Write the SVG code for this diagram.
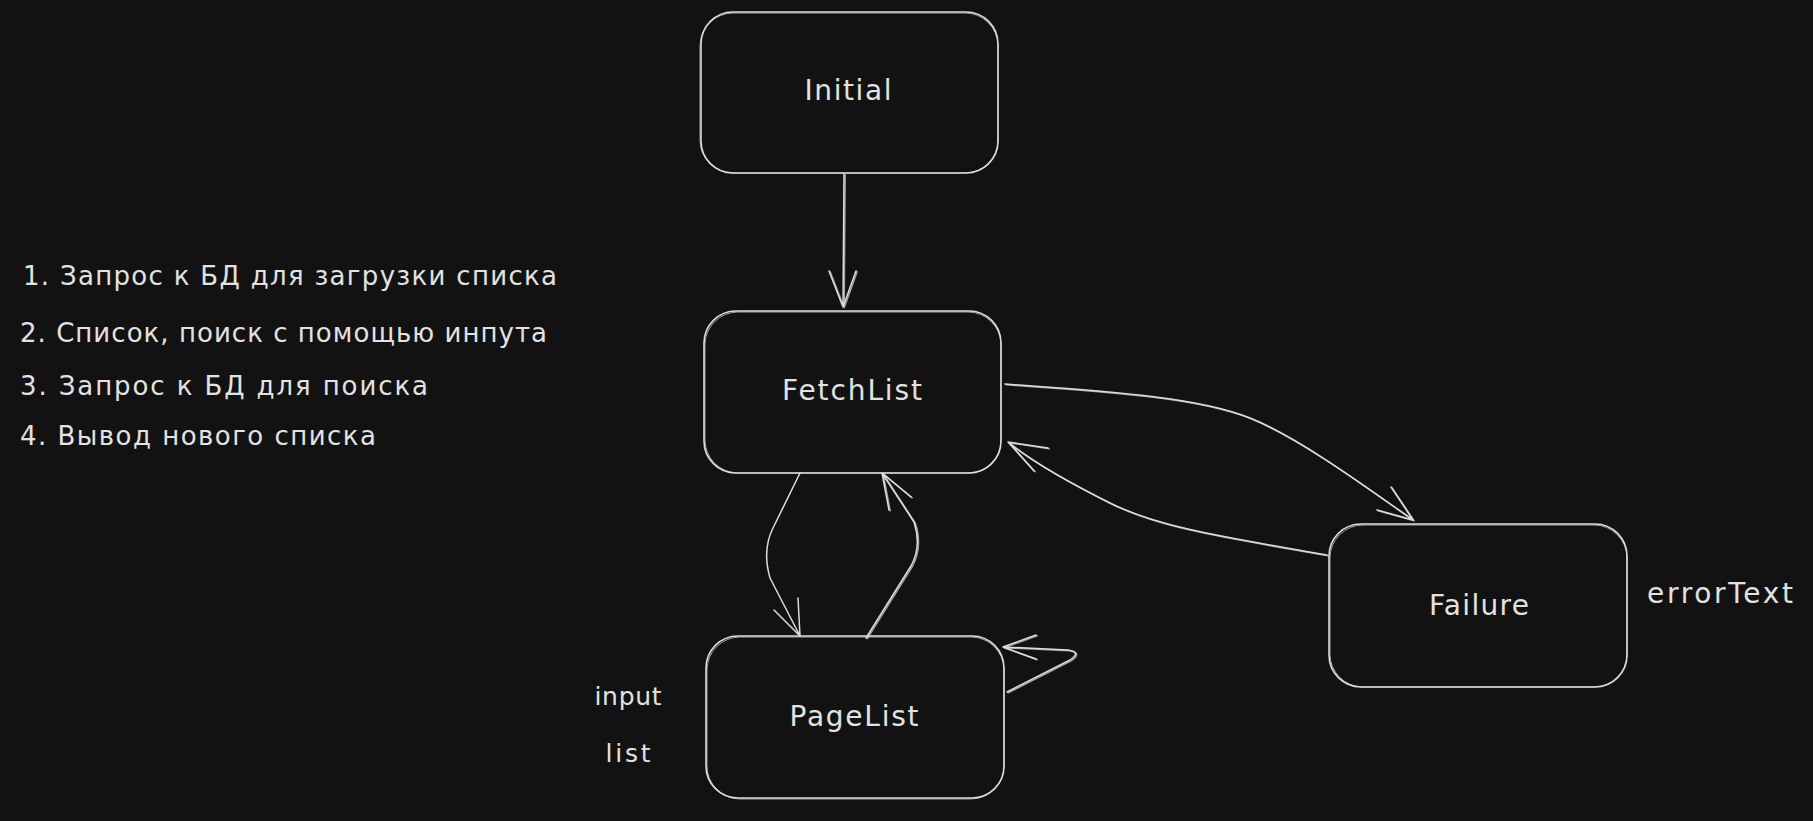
<svg xmlns="http://www.w3.org/2000/svg" xmlns:xlink="http://www.w3.org/1999/xlink" width="1813" height="821" viewBox="0 0 1813 821">
<style>
.bg{fill:#121212}
.box{fill:none;stroke:#dcdcdc;stroke-width:1.6}
.box2{fill:none;stroke:#dcdcdc;stroke-width:1;opacity:0.7}
.ln{fill:none;stroke:#dcdcdc;stroke-width:1.5;stroke-linecap:round;stroke-linejoin:round}
.ln2{fill:none;stroke:#dcdcdc;stroke-width:1;opacity:0.7;stroke-linecap:round}
.lbl{font-family:"DejaVu Sans","Liberation Sans",sans-serif;font-size:28px;fill:#e2e2e2;text-anchor:middle}
.sm{font-size:25px}
.note{font-family:"DejaVu Sans","Liberation Sans",sans-serif;font-size:26px;fill:#e2e2e2}
</style>
<rect class="bg" x="0" y="0" width="1813" height="821"/>

<g id="connectors">
  <g id="edges">
    <path id="e1" class="ln" d="M844,174 L843,307 M829,271 L843,307 L856,271"/>
    <path id="e2" class="ln" d="M1005,384 C1120,392 1200,398 1250,418 S1370,490 1413,520 M1391,487 L1413,520 L1377,510"/>
    <path id="e3" class="ln" d="M1327,555 C1230,538 1160,528 1110,503 S1030,460 1008,442 M1048,448 L1008,442 L1034,471"/>
    <path id="e4" class="ln" d="M800,473 L773,528 Q762,550 770,578 L800,636 M774,610 L800,636 L798,598"/>
    <path id="e5" class="ln" d="M866,638 L911,566 Q922,546 914,522 L882,473 M911,497 L882,473 L889,510"/>
    <path id="e6" class="ln" d="M1007,692 L1070,660 Q1082,652 1068,650 L1003,647 M1036,635 L1003,647 L1036,659"/>
  </g>
  <g transform="translate(1.2,0.8)">
    <use xlink:href="#e1" class="ln2"/>
    <use xlink:href="#e2" class="ln2"/>
    <use xlink:href="#e3" class="ln2"/>
    <use xlink:href="#e5" class="ln2"/>
    <use xlink:href="#e6" class="ln2"/>
  </g>
</g>

<g id="node-initial">
  <rect class="box" x="701" y="12" width="297" height="161" rx="32"/>
  <rect class="box2" x="700" y="13" width="298" height="160" rx="33"/>
  <text class="lbl" x="848" y="100" textLength="87">Initial</text>
</g>

<g id="node-fetchlist">
  <rect class="box" x="704" y="311" width="297" height="162" rx="32"/>
  <rect class="box2" x="705" y="312" width="296" height="161" rx="33"/>
  <text class="lbl" x="852" y="400" textLength="140">FetchList</text>
</g>

<g id="node-pagelist">
  <rect class="box" x="706" y="636" width="298" height="162" rx="32"/>
  <rect class="box2" x="707" y="637" width="297" height="162" rx="33"/>
  <text class="lbl" x="854" y="726" textLength="129">PageList</text>
</g>

<g id="node-failure">
  <rect class="box" x="1329" y="524" width="298" height="163" rx="32"/>
  <rect class="box2" x="1330" y="525" width="297" height="162" rx="33"/>
  <text class="lbl" x="1479" y="615" textLength="100">Failure</text>
</g>

<g id="labels">
  <text class="lbl" x="1720" y="603" textLength="146">errorText</text>
  <text class="lbl sm" x="628" y="705" textLength="67">input</text>
  <text class="lbl sm" x="628" y="762" textLength="45">list</text>
</g>

<g id="notes">
  <text class="note" x="23" y="285" textLength="534">1. Запрос к БД для загрузки списка</text>
  <text class="note" x="20" y="342" textLength="527">2. Список, поиск с помощью инпута</text>
  <text class="note" x="20" y="395" textLength="408">3. Запрос к БД для поиска</text>
  <text class="note" x="20" y="445" textLength="356">4. Вывод нового списка</text>
</g>
</svg>
